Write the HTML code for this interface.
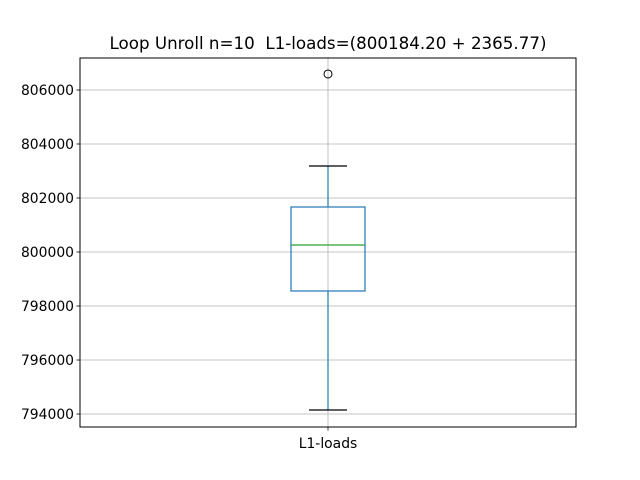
<!DOCTYPE html>
<html><head><meta charset="utf-8"><style>
body{margin:0;background:#fff;}
svg{display:block;font-family:"DejaVu Sans","Liberation Sans",sans-serif;}
</style></head><body>
<svg id="chart" width="640" height="480">
<rect width="640" height="480" fill="#fff"/>
<text x="328" y="49" text-anchor="middle" font-size="16.7" fill="#000" style="white-space:pre" xml:space="preserve">Loop Unroll n=10  L1-loads=(800184.20 + 2365.77)</text>
<g id="grid"></g>
<g id="marks"></g>
<rect x="80" y="58" width="496" height="369" fill="none" stroke="#000" stroke-width="1"/>
<g id="ticks"></g>
</svg>
<script>
const categories = ["L1-loads"];
const yTicks = [794000, 796000, 798000, 800000, 802000, 804000, 806000];
const whiskerLow = [794148];
const q1 = [798556];
const median = [800259];
const q3 = [801667];
const whiskerHigh = [803185];
const outliers = [[806593]];

const NS = "http://www.w3.org/2000/svg";
const yMin = 793519, yMax = 807185;
const plotTop = 58, plotBottom = 427, plotLeft = 80, plotRight = 576;
function yScale(v){ return plotBottom - (v - yMin) / (yMax - yMin) * (plotBottom - plotTop); }
function xScale(i){ return plotLeft + (i + 0.5) * (plotRight - plotLeft) / categories.length; }
function mk(tag, attrs, parent){ const e = document.createElementNS(NS, tag); for (const k in attrs) e.setAttribute(k, attrs[k]); parent.appendChild(e); return e; }

const gridG = document.getElementById('grid');
const marksG = document.getElementById('marks');
const ticksG = document.getElementById('ticks');

yTicks.forEach(t => {
  const yy = yScale(t);
  const g = mk('line', {x1:plotLeft, x2:plotRight, y1:yy, y2:yy, stroke:'#b0b0b0', 'stroke-width':0.8}, gridG);
  
  
  const tk = mk('line', {x1:plotLeft-3.5, x2:plotLeft, y1:yy, y2:yy, stroke:'#000', 'stroke-width':0.8}, ticksG);
  
  
  const lb = mk('text', {x:plotLeft-6, y:yy+5, 'text-anchor':'end', 'font-size':'13.9', fill:'#000'}, ticksG);
  lb.textContent = t;
  
  
});

categories.forEach((c, i) => {
  const cx = xScale(i);
  const vg = mk('line', {x1:cx, x2:cx, y1:plotTop, y2:plotBottom, stroke:'#b0b0b0', 'stroke-width':0.8}, gridG);
  
  
  const bw = 37, cw = 19;
  const w1 = mk('line', {x1:cx, x2:cx, y1:yScale(q1[i]), y2:yScale(whiskerLow[i]), stroke:'#1f77b4', 'stroke-width':1.2}, marksG);
  
  
  const w2 = mk('line', {x1:cx, x2:cx, y1:yScale(q3[i]), y2:yScale(whiskerHigh[i]), stroke:'#1f77b4', 'stroke-width':1.2}, marksG);
  
  
  const c1 = mk('line', {x1:cx-cw, x2:cx+cw, y1:yScale(whiskerLow[i]), y2:yScale(whiskerLow[i]), stroke:'#000', 'stroke-width':1.2}, marksG);
  
  
  const c2 = mk('line', {x1:cx-cw, x2:cx+cw, y1:yScale(whiskerHigh[i]), y2:yScale(whiskerHigh[i]), stroke:'#000', 'stroke-width':1.2}, marksG);
  
  
  const b = mk('rect', {x:cx-bw, width:bw*2, y:yScale(q3[i]), height:yScale(q1[i])-yScale(q3[i]), fill:'none', stroke:'#1f77b4', 'stroke-width':1.2}, marksG);
  
  
  const m = mk('line', {x1:cx-bw, x2:cx+bw, y1:yScale(median[i]), y2:yScale(median[i]), stroke:'#2ca02c', 'stroke-width':1.2}, marksG);
  
  
  outliers[i].forEach(o => {
    const p = mk('circle', {cx:cx, cy:yScale(o), r:4, fill:'none', stroke:'#000', 'stroke-width':1}, marksG);
    
    
  });
  const tk = mk('line', {x1:cx, x2:cx, y1:plotBottom, y2:plotBottom+3.5, stroke:'#000', 'stroke-width':0.8}, ticksG);
  
  
  const lb = mk('text', {x:cx, y:plotBottom+21, 'text-anchor':'middle', 'font-size':'13.9', fill:'#000'}, ticksG);
  lb.textContent = c;
  
  
});
</script>
</body></html>
